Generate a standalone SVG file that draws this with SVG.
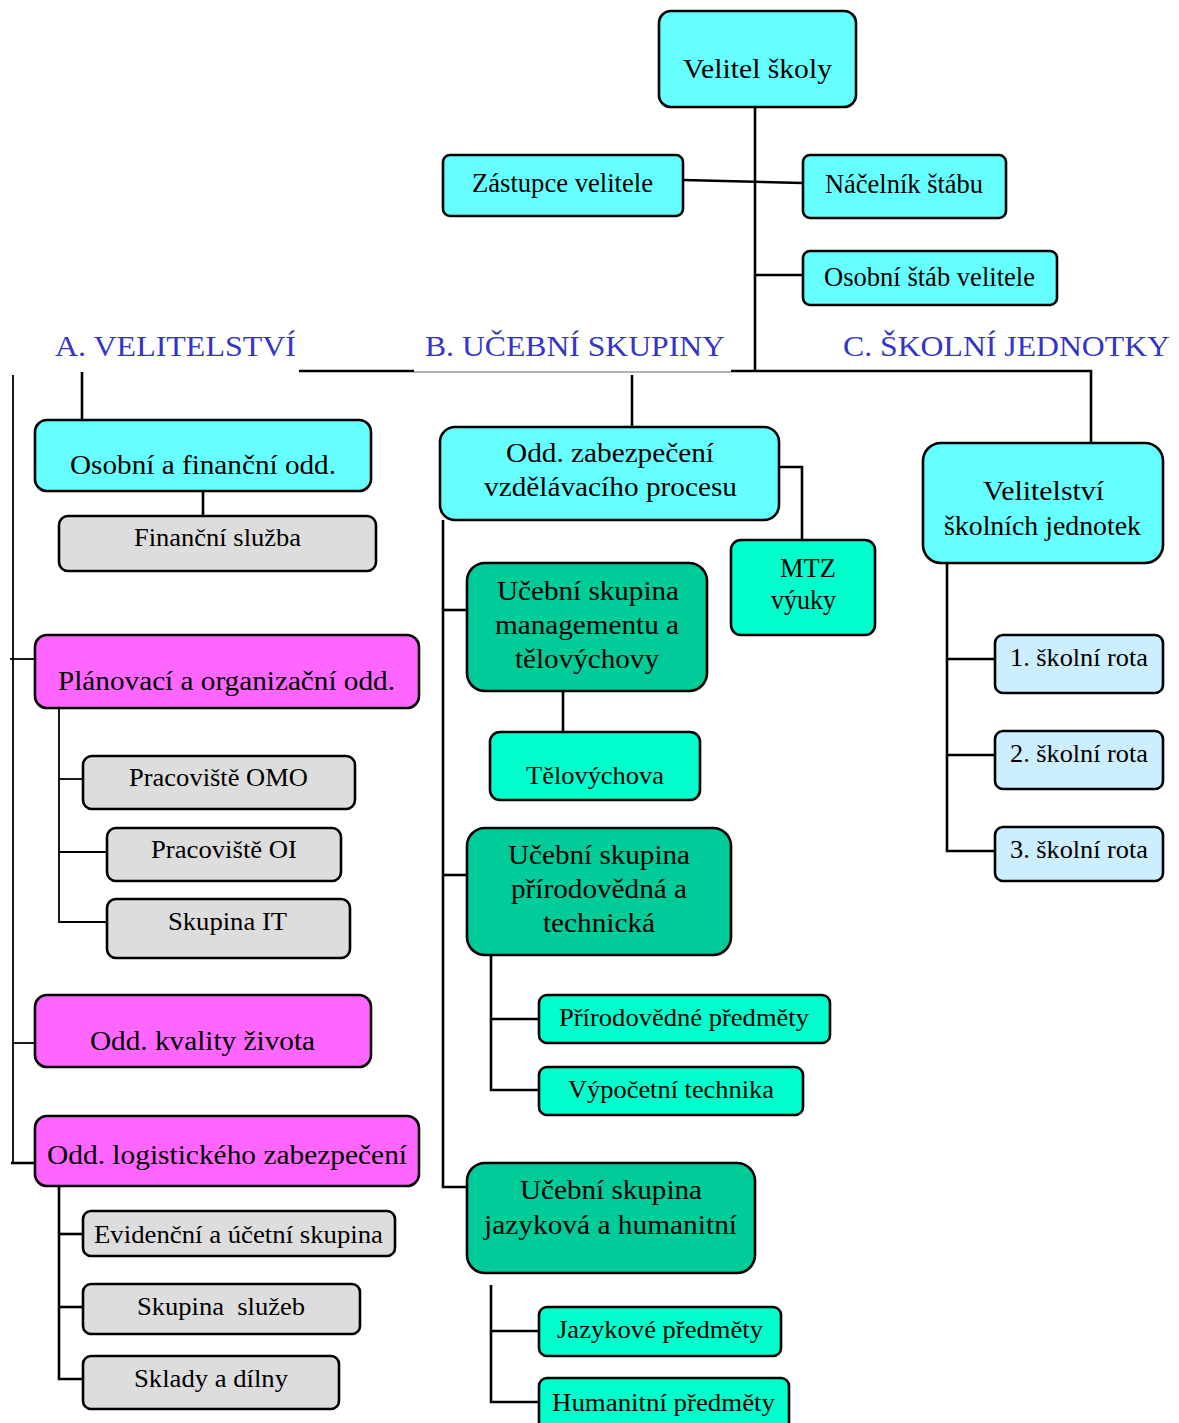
<svg xmlns="http://www.w3.org/2000/svg" width="1179" height="1423" viewBox="0 0 1179 1423">
<style>
text{font-family:"Liberation Serif","Times New Roman",serif;font-size:26.5px;fill:#000}
.sm{font-size:25px}
.lbl{font-size:30px;fill:#3434c8}
.box{stroke:#000;stroke-width:2.6}
.cy{fill:#66ffff}.mg{fill:#ff66ff}.gr{fill:#dddddd}.dg{fill:#00cc99}.lg{fill:#00ffcc}.lb{fill:#cceeff}
.ln{stroke:#000;stroke-width:2.6;fill:none}
.thin{stroke:#000;stroke-width:1.8;fill:none}
</style>
<rect width="1179" height="1423" fill="#fff"/>
<g id="connectors">
<path class="ln" d="M755,107V371"/>
<path class="ln" d="M683,180L803,183"/>
<path class="ln" d="M755,275H803"/>
<path class="ln" d="M299,371H414"/>
<path d="M414,372H731" stroke="#999" stroke-width="1.5"/>
<path class="ln" d="M731,371H1091V443"/>
<path class="ln" d="M632,375V427"/>
<path class="ln" d="M82,372V420"/>
<path class="ln" d="M203,491V516"/>
<path class="thin" d="M13,375V1163"/>
<path class="ln" d="M11,1163H35"/>
<path class="thin" d="M10,659H35"/>
<path class="thin" d="M13,1043H35"/>
<path class="thin" d="M59,708V922H107"/>
<path class="thin" d="M59,779H83"/>
<path class="thin" d="M59,852H107"/>
<path class="ln" d="M59,1186V1379H83"/>
<path class="ln" d="M59,1234H83"/>
<path class="ln" d="M59,1307H83"/>
<path class="ln" d="M779,467H802V540"/>
<path class="ln" d="M443,520V1187H467"/>
<path class="ln" d="M443,610H467"/>
<path class="ln" d="M443,875H467"/>
<path class="ln" d="M563,691V732"/>
<path class="ln" d="M491,948V1090H539"/>
<path class="ln" d="M491,1019H539"/>
<path class="ln" d="M491,1285V1402H539"/>
<path class="ln" d="M491,1331H539"/>
<path class="ln" d="M947,563V851H995"/>
<path class="ln" d="M947,659H995"/>
<path class="ln" d="M947,755H995"/>
</g>
<g id="labels">
<text class="lbl" x="55" y="356" textLength="241" lengthAdjust="spacingAndGlyphs">A. VELITELSTVÍ</text>
<text class="lbl" x="425" y="356" textLength="300" lengthAdjust="spacingAndGlyphs">B. UČEBNÍ SKUPINY</text>
<text class="lbl" x="843" y="356" textLength="327" lengthAdjust="spacingAndGlyphs">C. ŠKOLNÍ JEDNOTKY</text>
</g>
<g id="velitel-skoly"><rect class="box cy" x="659" y="11" width="197" height="96" rx="12"/><text x="683" y="78" font-size="30" textLength="149" lengthAdjust="spacingAndGlyphs">Velitel školy</text></g>
<g id="zastupce"><rect class="box cy" x="443" y="155" width="240" height="61" rx="7"/><text x="472" y="192" textLength="181" lengthAdjust="spacingAndGlyphs">Zástupce velitele</text></g>
<g id="nacelnik"><rect class="box cy" x="803" y="155" width="203" height="63" rx="7"/><text x="825" y="193" textLength="158" lengthAdjust="spacingAndGlyphs">Náčelník štábu</text></g>
<g id="osobni-stab"><rect class="box cy" x="803" y="251" width="254" height="54" rx="7"/><text x="824" y="286" textLength="211" lengthAdjust="spacingAndGlyphs">Osobní štáb velitele</text></g>

<g id="osobni-financni"><rect class="box cy" x="35" y="420" width="336" height="71" rx="12"/><text x="70" y="474" textLength="266" lengthAdjust="spacingAndGlyphs">Osobní a finanční odd.</text></g>
<g id="financni-sluzba"><rect class="box gr" x="59" y="516" width="317" height="55" rx="9"/><text class="sm" x="134" y="546" textLength="167" lengthAdjust="spacingAndGlyphs">Finanční služba</text></g>
<g id="planovaci"><rect class="box mg" x="35" y="635" width="384" height="73" rx="12"/><text x="58" y="690" textLength="337" lengthAdjust="spacingAndGlyphs">Plánovací a organizační odd.</text></g>
<g id="omo"><rect class="box gr" x="83" y="756" width="272" height="53" rx="9"/><text class="sm" x="129" y="786" textLength="179" lengthAdjust="spacingAndGlyphs">Pracoviště OMO</text></g>
<g id="oi"><rect class="box gr" x="107" y="828" width="234" height="53" rx="9"/><text class="sm" x="151" y="858" textLength="146" lengthAdjust="spacingAndGlyphs">Pracoviště OI</text></g>
<g id="it"><rect class="box gr" x="107" y="899" width="243" height="59" rx="9"/><text class="sm" x="168" y="930" textLength="119" lengthAdjust="spacingAndGlyphs">Skupina IT</text></g>
<g id="kvalita"><rect class="box mg" x="35" y="995" width="336" height="72" rx="12"/><text x="90" y="1050" textLength="225" lengthAdjust="spacingAndGlyphs">Odd. kvality života</text></g>
<g id="logistika"><rect class="box mg" x="35" y="1116" width="384" height="70" rx="12"/><text x="47" y="1164" textLength="360" lengthAdjust="spacingAndGlyphs">Odd. logistického zabezpečení</text></g>
<g id="evidencni"><rect class="box gr" x="83" y="1211" width="312" height="45" rx="8"/><text class="sm" x="94" y="1243" textLength="289" lengthAdjust="spacingAndGlyphs">Evidenční a účetní skupina</text></g>
<g id="sluzby"><rect class="box gr" x="83" y="1284" width="277" height="50" rx="8"/><text class="sm" x="137" y="1315" xml:space="preserve" textLength="168" lengthAdjust="spacingAndGlyphs">Skupina  služeb</text></g>
<g id="sklady"><rect class="box gr" x="83" y="1356" width="256" height="53" rx="8"/><text class="sm" x="134" y="1387" textLength="154" lengthAdjust="spacingAndGlyphs">Sklady a dílny</text></g>

<g id="zabezpeceni"><rect class="box cy" x="440" y="427" width="339" height="93" rx="15"/><text x="506" y="462" textLength="208" lengthAdjust="spacingAndGlyphs">Odd. zabezpečení</text><text x="484" y="496" textLength="253" lengthAdjust="spacingAndGlyphs">vzdělávacího procesu</text></g>
<g id="mtz"><rect class="box lg" x="731" y="540" width="144" height="95" rx="10"/><text x="780" y="577" textLength="56" lengthAdjust="spacingAndGlyphs">MTZ</text><text x="771" y="609" textLength="65" lengthAdjust="spacingAndGlyphs">výuky</text></g>
<g id="us-management"><rect class="box dg" x="467" y="563" width="240" height="128" rx="18"/><text x="497" y="600" textLength="182" lengthAdjust="spacingAndGlyphs">Učební skupina</text><text x="495" y="634" textLength="184" lengthAdjust="spacingAndGlyphs">managementu a</text><text x="515" y="668" textLength="144" lengthAdjust="spacingAndGlyphs">tělovýchovy</text></g>
<g id="telovychova"><rect class="box lg" x="490" y="732" width="210" height="68" rx="10"/><text class="sm" x="526" y="784" textLength="138" lengthAdjust="spacingAndGlyphs">Tělovýchova</text></g>
<g id="us-prirodovedna"><rect class="box dg" x="467" y="828" width="264" height="127" rx="18"/><text x="508" y="864" textLength="182" lengthAdjust="spacingAndGlyphs">Učební skupina</text><text x="511" y="898" textLength="176" lengthAdjust="spacingAndGlyphs">přírodovědná a</text><text x="543" y="932" textLength="112" lengthAdjust="spacingAndGlyphs">technická</text></g>
<g id="prirodovedne-predmety"><rect class="box lg" x="539" y="995" width="291" height="48" rx="8"/><text class="sm" x="559" y="1026" textLength="250" lengthAdjust="spacingAndGlyphs">Přírodovědné předměty</text></g>
<g id="vypocetni"><rect class="box lg" x="539" y="1067" width="264" height="48" rx="8"/><text class="sm" x="568" y="1098" textLength="206" lengthAdjust="spacingAndGlyphs">Výpočetní technika</text></g>
<g id="us-jazykova"><rect class="box dg" x="467" y="1163" width="288" height="110" rx="18"/><text x="520" y="1199" textLength="182" lengthAdjust="spacingAndGlyphs">Učební skupina</text><text x="484" y="1234" textLength="253" lengthAdjust="spacingAndGlyphs">jazyková a humanitní</text></g>
<g id="jazykove"><rect class="box lg" x="539" y="1307" width="242" height="49" rx="8"/><text class="sm" x="557" y="1338" textLength="206" lengthAdjust="spacingAndGlyphs">Jazykové předměty</text></g>
<g id="humanitni"><rect class="box lg" x="539" y="1378" width="250" height="52" rx="8"/><text class="sm" x="552" y="1411" textLength="223" lengthAdjust="spacingAndGlyphs">Humanitní předměty</text></g>

<g id="velitelstvi-sj"><rect class="box cy" x="923" y="443" width="240" height="120" rx="18"/><text x="983" y="500" textLength="121" lengthAdjust="spacingAndGlyphs">Velitelství</text><text x="944" y="535" textLength="197" lengthAdjust="spacingAndGlyphs">školních jednotek</text></g>
<g id="rota1"><rect class="box lb" x="995" y="635" width="168" height="58" rx="8"/><text class="sm" x="1010" y="666" textLength="138" lengthAdjust="spacingAndGlyphs">1. školní rota</text></g>
<g id="rota2"><rect class="box lb" x="995" y="731" width="168" height="58" rx="8"/><text class="sm" x="1010" y="762" textLength="138" lengthAdjust="spacingAndGlyphs">2. školní rota</text></g>
<g id="rota3"><rect class="box lb" x="995" y="827" width="168" height="54" rx="8"/><text class="sm" x="1010" y="858" textLength="138" lengthAdjust="spacingAndGlyphs">3. školní rota</text></g>
</svg>
